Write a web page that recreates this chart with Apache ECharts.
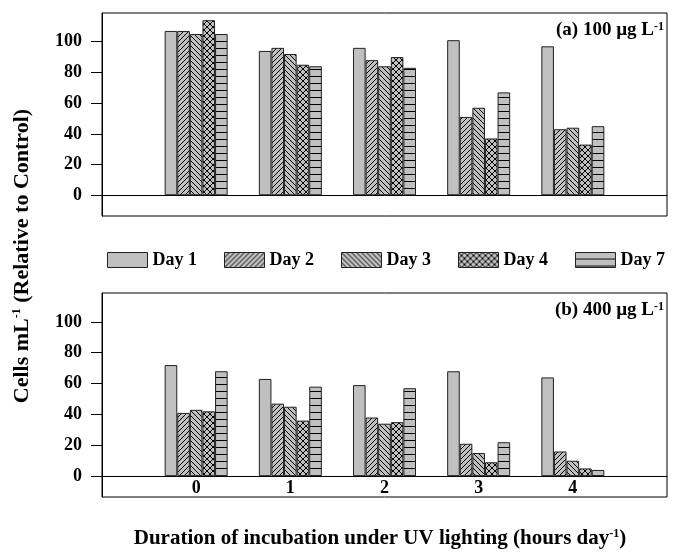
<!DOCTYPE html>
<html>
<head>
<meta charset="utf-8">
<script src="https://cdn.jsdelivr.net/npm/echarts@6/dist/echarts.min.js"></script>
<style>
  html, body { margin: 0; padding: 0; background: #fff; }
  #chart { width: 673px; height: 552px; }
</style>
</head>
<body>
<div id="chart"></div>
<script>
// hours of UV per day (empty slots at both ends of the axis)
const hours = ['', '0', '1', '2', '3', '4', ''];
const dayNames = ['Day 1', 'Day 2', 'Day 3', 'Day 4', 'Day 7'];

// (a) 100 ug/L
const day1A = ['-', 107, 94, 96, 101, 97, '-'];
const day2A = ['-', 107, 96, 88, 51, 43, '-'];
const day3A = ['-', 105, 92, 84, 57, 44, '-'];
const day4A = ['-', 114, 85, 90, 37, 33, '-'];
const day7A = ['-', 105, 84, 83, 67, 45, '-'];

// (b) 400 ug/L
const day1B = ['-', 72, 63, 59, 68, 64, '-'];
const day2B = ['-', 41, 47, 38, 21, 16, '-'];
const day3B = ['-', 43, 45, 34, 15, 10, '-'];
const day4B = ['-', 42, 36, 35, 9, 5, '-'];
const day7B = ['-', 68, 58, 57, 22, 4, '-'];

const yTicks = [0, 20, 40, 60, 80, 100];

const FONT = '"Liberation Serif", "Times New Roman", serif';
const GRAY = '#c0c0c0';

function pattern(kind) {
    const c = document.createElement('canvas');
    let w = 5, h = 5;
    if (kind === 'x') { w = 6; h = 6; }
    if (kind === 'h') { w = 4; h = 7; }
    c.width = w; c.height = h;
    const ctx = c.getContext('2d');
    ctx.fillStyle = GRAY;
    ctx.fillRect(0, 0, w, h);
    ctx.strokeStyle = '#000';
    ctx.lineWidth = 1;
    ctx.beginPath();
    if (kind === '/' || kind === 'x') {
        ctx.moveTo(-1, h + 1); ctx.lineTo(w + 1, -1);
        ctx.moveTo(-1, 1); ctx.lineTo(1, -1);
        ctx.moveTo(w - 1, h + 1); ctx.lineTo(w + 1, h - 1);
    }
    if (kind === '\\' || kind === 'x') {
        ctx.moveTo(-1, -1); ctx.lineTo(w + 1, h + 1);
        ctx.moveTo(w - 1, -1); ctx.lineTo(w + 1, 1);
        ctx.moveTo(-1, h - 1); ctx.lineTo(1, h + 1);
    }
    if (kind === 'h') {
        ctx.moveTo(0, h - 0.5); ctx.lineTo(w, h - 0.5);
    }
    ctx.stroke();
    return { image: c, repeat: 'repeat' };
}

const fills = [GRAY, pattern('/'), pattern('\\'), pattern('x'), pattern('h')];

const chart = echarts.init(document.getElementById('chart'));

function xAxisFor(idx, showLabels) {
    return {
        type: 'category',
        gridIndex: idx,
        data: hours,
        boundaryGap: false,
        axisLine: { onZero: true, lineStyle: { color: '#000', width: 1 } },
        axisTick: { show: false },
        axisLabel: {
            show: showLabels, interval: 0, margin: -18,
            color: '#000', fontFamily: FONT, fontWeight: 'bold', fontSize: 18
        },
        splitLine: { show: false }
    };
}

function yAxisFor(idx) {
    return {
        type: 'value',
        gridIndex: idx,
        min: -13.5,
        max: 118.7,
        axisLine: { show: true, lineStyle: { color: '#000', width: 1 } },
        axisTick: { show: true, length: 11, customValues: yTicks, lineStyle: { color: '#000' } },
        axisLabel: {
            customValues: yTicks, margin: 20,
            color: '#000', fontFamily: FONT, fontWeight: 'bold', fontSize: 18
        },
        splitLine: { show: false }
    };
}

function barSeries(name, data, i, idx) {
    return {
        name: name,
        type: 'bar',
        xAxisIndex: idx,
        yAxisIndex: idx,
        data: data,
        barWidth: 12.6,
        barGap: '0%',
        itemStyle: { color: fills[i], borderColor: '#222', borderWidth: 1 },
        emphasis: { disabled: true }
    };
}

const seriesA = [day1A, day2A, day3A, day4A, day7A];
const seriesB = [day1B, day2B, day3B, day4B, day7B];

const series = [];
seriesA.forEach((d, i) => series.push(barSeries(dayNames[i], d, i, 0)));
seriesB.forEach((d, i) => series.push(barSeries(dayNames[i], d, i, 1)));

const sup = { fontSize: 12, verticalAlign: 'top', fontWeight: 'bold', fontFamily: FONT, fill: '#000' };

chart.setOption({
    animation: false,
    grid: [
        { left: 102, right: 6, top: 13, height: 203, show: true, borderColor: '#000', borderWidth: 1 },
        { left: 102, right: 6, top: 293, height: 204, show: true, borderColor: '#000', borderWidth: 1 }
    ],
    legend: {
        data: dayNames,
        left: 102,
        top: 246,
        itemWidth: 40,
        itemHeight: 15,
        itemGap: 27,
        icon: 'rect',
        textStyle: { color: '#000', fontFamily: FONT, fontWeight: 'bold', fontSize: 18 },
        itemStyle: { borderColor: '#222', borderWidth: 1 }
    },
    xAxis: [xAxisFor(0, false), xAxisFor(1, true)],
    yAxis: [yAxisFor(0), yAxisFor(1)],
    series: series,
    graphic: [
        {
            type: 'text', right: 9, top: 21,
            style: {
                text: '{m|(a) 100 µg L}{s|-1}',
                rich: { m: { fontSize: 19, fontWeight: 'bold', fontFamily: FONT, fill: '#000' }, s: sup }
            }
        },
        {
            type: 'text', right: 9, top: 301,
            style: {
                text: '{m|(b) 400 µg L}{s|-1}',
                rich: { m: { fontSize: 19, fontWeight: 'bold', fontFamily: FONT, fill: '#000' }, s: sup }
            }
        },
        {
            type: 'text', x: 380, y: 528,
            style: {
                text: '{m|Duration of incubation under UV lighting (hours day}{s|-1}{m|)}',
                align: 'center',
                rich: { m: { fontSize: 21, fontWeight: 'bold', fontFamily: FONT, fill: '#000' }, s: sup }
            }
        },
        {
            type: 'text', x: 11, y: 256, rotation: Math.PI / 2,
            style: {
                text: '{m|Cells mL}{s|-1}{m| (Relative to Control)}',
                align: 'center', verticalAlign: 'top',
                rich: { m: { fontSize: 22, fontWeight: 'bold', fontFamily: FONT, fill: '#000' }, s: sup }
            }
        }
    ]
});
</script>
</body>
</html>
